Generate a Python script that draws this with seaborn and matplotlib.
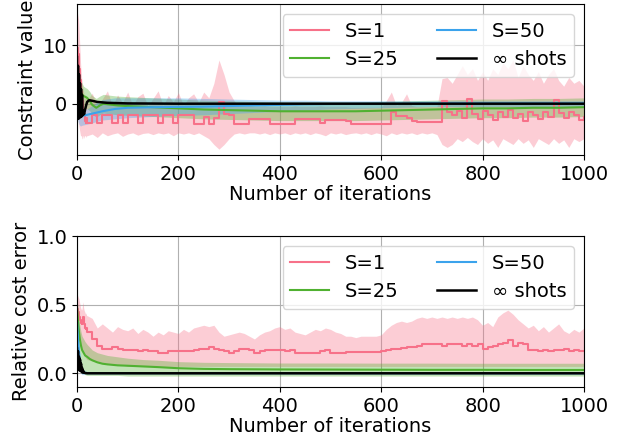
import matplotlib
matplotlib.use("Agg")
import matplotlib.pyplot as plt
import seaborn as sns

# ---------------------------------------------------------------- data
# S=1 runs: dense record for the first 20 iterations, then every 10
iters_s1 = list(range(20)) + list(range(20, 1001, 10))

# constraint value, S=1 (mean, lower and upper band)
con_s1_mean = [10.5, 9.5, 8.5, 7.0, 6.0, 5.0, 4.0, 3.0, 2.0, 1.2,
               0.5, -0.3, -1.0, -1.5, -2.0, -2.5, -3.0, -3.3, -2.5, -3.0,
               -3.3, -2.0, -3.3, -2.0, -2.0, -3.3, -2.0, -3.3,
               -2.0, -2.0, -3.3, -2.0, -2.0, -2.0, -3.3, -2.0, -2.0, -3.3,
               -2.0, -2.0, -2.0, -3.5, -3.5, -2.2, -3.5, -2.5, 0.3, -1.8,
               -2.0, -3.5, -3.5, -3.5, -2.7, -2.7, -2.7, -2.7, -3.5, -3.5,
               -3.5, -3.5, -3.5, -2.7, -2.7, -2.7, -2.7, -2.7, -3.3, -2.8,
               -2.8, -2.8, -2.8, -3.0, -3.5, -3.5, -3.5, -3.5, -3.5, -3.5,
               -3.5, -3.5, -1.5, -2.1, -2.1, -2.5, -3.0, -3.2, -3.2, -3.2,
               -3.2, -3.2, 0.5, -1.5, -2.0, -1.2, -2.5, 0.8, -1.8, -2.6,
               -1.2, -2.0, -2.8, -1.5, -2.2, -1.0, -2.5, -1.8, -3.0, -1.5,
               -2.0, -2.6, -1.4, -2.2, 0.6, -1.6, -2.4, -1.5, -2.0, -2.8,
               -2.3]
con_s1_hi = [16.0, 15.5, 15.0, 14.5, 13.0, 11.0, 9.0, 7.0, 5.5, 4.5,
             3.5, 3.0, 2.5, 2.0, 1.5, 1.2, 1.0, 0.8, 1.5, 0.8,
             0.5, 1.8, -0.3, 0.8, 2.2, -0.4, 1.5, 0.2,
             2.0, -0.3, 1.2, 1.8, -0.4, 0.9, 2.2, -0.3, 1.4, 0.3,
             1.9, -0.3, 1.0, 1.7, 0.2, 2.0, 1.0, 3.5, 7.5, 5.0,
             2.0, 0.5, -0.5, -0.5, -0.4, -0.5, -0.5, -0.4, -0.5, -0.5,
             -0.5, -0.5, -0.5, -0.4, -0.5, -0.5, -0.5, -0.5, -0.4, -0.5,
             -0.5, -0.5, -0.5, -0.5, -0.6, -0.6, -0.6, -0.6, -0.6, -0.6,
             -0.6, 0.5, 2.0, -0.3, 0.2, 1.7, -0.3, -0.5, -0.5, -0.5,
             -0.5, -0.5, 4.3, 4.5, 3.5, 5.0, 6.5, 5.0, 6.0, 4.0,
             5.5, 4.0, 6.0, 5.0, 7.0, 6.0, 7.5, 4.5, 6.5, 5.0,
             4.0, 5.5, 3.5, 5.0, 6.0, 4.0, 3.0, 4.5, 3.5, 4.0,
             3.0]
con_s1_lo = [2.0, -1.0, -2.5, -3.5, -4.0, -4.5, -5.0, -5.5, -5.5, -5.5,
             -6.0, -6.0, -5.5, -5.5, -6.0, -5.5, -5.5, -5.5, -5.8, -5.5,
             -5.5, -5.2, -5.8, -5.0, -5.5, -5.2, -5.0, -5.6,
             -5.2, -5.0, -5.4, -5.1, -5.0, -5.3, -5.0, -5.2, -5.0, -5.5,
             -5.0, -5.2, -5.0, -5.3, -5.0, -5.5, -6.0, -7.0, -7.8, -7.0,
             -6.0, -5.2, -5.0, -5.2, -5.0, -5.0, -5.2, -5.0, -5.3, -5.0,
             -5.2, -5.0, -5.3, -5.0, -5.2, -5.0, -5.3, -5.0, -5.2, -5.5,
             -5.0, -5.2, -5.0, -5.3, -5.1, -5.0, -5.2, -5.0, -5.3, -5.0,
             -5.2, -5.5, -5.0, -5.3, -5.0, -5.2, -5.0, -5.3, -5.0, -5.2,
             -5.0, -5.3, -7.0, -7.5, -7.0, -6.0, -6.5, -5.8, -6.5, -7.0,
             -6.0, -6.8, -6.2, -7.5, -6.0, -6.5, -7.0, -6.0, -6.8, -6.2,
             -7.5, -6.0, -6.5, -7.0, -6.0, -6.8, -6.2, -7.5, -6.0, -6.5,
             -6.0]

# relative cost error, S=1
err_s1_mean = [0.49, 0.47, 0.45, 0.43, 0.41, 0.40, 0.39, 0.38, 0.37, 0.36,
               0.37, 0.39, 0.41, 0.38, 0.36, 0.34, 0.33, 0.32, 0.33, 0.31,
               0.30, 0.25, 0.20, 0.18, 0.18, 0.19, 0.18, 0.17,
               0.17, 0.17, 0.16, 0.17, 0.16, 0.16, 0.15, 0.15, 0.16, 0.16,
               0.16, 0.16, 0.16, 0.17, 0.18, 0.18, 0.19, 0.18, 0.17, 0.16,
               0.15, 0.16, 0.18, 0.18, 0.17, 0.15, 0.16, 0.17, 0.17, 0.17,
               0.17, 0.16, 0.17, 0.15, 0.15, 0.15, 0.15, 0.15, 0.16, 0.17,
               0.15, 0.145, 0.15, 0.155, 0.155, 0.155, 0.155, 0.155, 0.155, 0.155,
               0.16, 0.17, 0.18, 0.18, 0.185, 0.19, 0.19, 0.20, 0.21, 0.21,
               0.21, 0.21, 0.20, 0.21, 0.21, 0.21, 0.20, 0.21, 0.20, 0.21,
               0.18, 0.19, 0.20, 0.21, 0.22, 0.24, 0.20, 0.22, 0.21, 0.17,
               0.17, 0.16, 0.17, 0.16, 0.17, 0.17, 0.18, 0.16, 0.17, 0.16,
               0.16]
err_s1_hi = [0.57, 0.57, 0.56, 0.55, 0.54, 0.52, 0.50, 0.48, 0.47, 0.46,
             0.47, 0.50, 0.52, 0.48, 0.46, 0.45, 0.44, 0.43, 0.44, 0.42,
             0.42, 0.40, 0.33, 0.36, 0.33, 0.30, 0.34, 0.32,
             0.31, 0.33, 0.29, 0.32, 0.30, 0.27, 0.30, 0.28, 0.31, 0.30,
             0.29, 0.32, 0.30, 0.33, 0.34, 0.35, 0.34, 0.35, 0.30, 0.27,
             0.28, 0.29, 0.30, 0.29, 0.27, 0.25, 0.28, 0.30, 0.31, 0.33,
             0.34, 0.32, 0.33, 0.30, 0.29, 0.28, 0.30, 0.32, 0.31, 0.33,
             0.32, 0.30, 0.29, 0.27, 0.27, 0.26, 0.27, 0.27, 0.27, 0.27,
             0.28, 0.32, 0.35, 0.37, 0.38, 0.37, 0.38, 0.40, 0.41, 0.40,
             0.41, 0.40, 0.41, 0.40, 0.41, 0.40, 0.41, 0.40, 0.41, 0.39,
             0.35, 0.37, 0.34, 0.41, 0.44, 0.46, 0.43, 0.39, 0.36, 0.33,
             0.35, 0.31, 0.34, 0.30, 0.33, 0.36, 0.31, 0.29, 0.32, 0.30,
             0.33]
err_s1_lo = [0.40, 0.37, 0.34, 0.30, 0.28, 0.26, 0.24, 0.22, 0.20, 0.19,
             0.18, 0.17, 0.16, 0.15, 0.14, 0.13, 0.12, 0.11, 0.11, 0.10,
             0.10, 0.09, 0.08, 0.07, 0.07, 0.06, 0.06, 0.06,
             0.05, 0.05, 0.05, 0.05, 0.05, 0.05, 0.05, 0.05, 0.05, 0.05,
             0.05, 0.05, 0.05, 0.05, 0.05, 0.05, 0.05, 0.05, 0.05, 0.05,
             0.05, 0.05, 0.05, 0.05, 0.05, 0.05, 0.05, 0.05, 0.05, 0.05,
             0.05, 0.05, 0.05, 0.05, 0.05, 0.05, 0.05, 0.05, 0.05, 0.05,
             0.05, 0.05, 0.05, 0.05, 0.05, 0.05, 0.05, 0.05, 0.05, 0.05,
             0.05, 0.05, 0.05, 0.05, 0.05, 0.05, 0.05, 0.05, 0.05, 0.05,
             0.05, 0.05, 0.05, 0.05, 0.05, 0.05, 0.05, 0.05, 0.05, 0.05,
             0.05, 0.05, 0.05, 0.05, 0.05, 0.05, 0.05, 0.05, 0.05, 0.05,
             0.05, 0.05, 0.05, 0.05, 0.05, 0.05, 0.05, 0.05, 0.05, 0.05,
             0.05]

# constraint value, S=25
iters_s25_con = [0, 2, 4, 6, 8, 10, 13, 16, 20, 25, 30, 38, 45, 52, 60, 80, 100,
                 150, 200, 250, 300, 350, 400, 450, 500, 550, 600, 650, 700,
                 750, 800, 850, 900, 950, 1000]
con_s25_mean = [6.0, 5.0, 3.5, 2.5, 2.0, 1.6, 1.3, 1.2, 1.0, 0.5, -0.2, -0.7,
                -0.3, 0.0, -0.1, -0.3, -0.4, -0.6, -0.8, -1.0, -1.1, -1.2,
                -1.3, -1.3, -1.3, -1.3, -1.2, -1.1, -1.0, -0.9, -0.8, -0.8,
                -0.7, -0.7, -0.6]
con_s25_hi = [9.0, 8.0, 6.5, 5.0, 4.0, 3.5, 3.0, 2.8, 2.6, 2.1, 1.4, 0.9,
              1.3, 1.6, 1.5, 1.3, 1.2, 1.0, 0.8, 0.6, 0.5, 0.4, 0.3, 0.3,
              0.3, 0.3, 0.4, 0.5, 0.6, 0.7, 0.8, 0.8, 0.9, 0.9, 1.0]
con_s25_lo = [3.0, 2.0, 0.5, 0.0, -0.5, -0.7, -0.8, -0.8, -0.9, -1.2, -1.8,
              -2.3, -1.9, -1.6, -1.7, -1.9, -2.0, -2.2, -2.4, -2.6, -2.7,
              -2.8, -2.9, -2.9, -2.9, -2.9, -2.8, -2.7, -2.6, -2.5, -2.4,
              -2.4, -2.3, -2.3, -2.2]

# constraint value, S=50
iters_s50_con = [0, 2, 4, 6, 8, 10, 15, 20, 30, 40, 50, 75, 100, 150, 200,
                 250, 300, 350, 400, 450, 500, 600, 700, 800, 900, 1000]
con_s50_mean = [1.0, -1.0, -2.0, -2.3, -2.2, -2.1, -2.0, -1.9, -1.7, -1.5,
                -1.3, -0.9, -0.7, -0.6, -0.55, -0.5, -0.4, -0.3, -0.2, -0.1,
                -0.05, 0.0, 0.05, 0.05, 0.05, 0.05]
con_s50_hi = [3.0, 0.5, -0.5, -1.0, -1.0, -1.0, -1.0, -0.9, -0.3, 0.3, 0.7,
              1.0, 1.0, 1.0, 1.0, 0.9, 0.8, 0.7, 0.6, 0.6, 0.5, 0.5, 0.5,
              0.5, 0.5, 0.5]
con_s50_lo = [-1.0, -3.0, -3.5, -3.8, -3.8, -3.7, -3.6, -3.5, -3.3, -3.0,
              -2.8, -2.6, -2.4, -2.2, -2.0, -1.9, -1.7, -1.5, -1.3, -1.1,
              -0.9, -0.7, -0.5, -0.5, -0.5, -0.5]

# constraint value, exact expectation (infinite shots)
iters_inf_con = [0, 1, 2, 3, 4, 5, 6, 7, 8, 9, 10, 11, 12, 14, 16, 18, 20,
                 24, 30, 40, 60, 100, 200, 1000]
con_inf = [8.0, -2.5, 6.5, -2.6, 5.0, -2.4, 3.5, -2.3, 2.5, -2.2, 1.5, -2.0,
           -1.2, -1.8, -1.0, -0.3, 0.3, 0.6, 0.5, 0.3, 0.15, 0.05, 0.0, 0.0]

# relative cost error, S=25
iters_s25_err = [0, 2, 4, 6, 8, 10, 13, 16, 20, 25, 30, 40, 50, 60, 80, 100,
                 130, 160, 200, 250, 300, 400, 500, 600, 700, 800, 900, 1000]
err_s25_mean = [0.48, 0.38, 0.30, 0.24, 0.20, 0.17, 0.15, 0.13, 0.12, 0.105,
                0.095, 0.08, 0.07, 0.065, 0.058, 0.055, 0.05, 0.045, 0.037,
                0.032, 0.03, 0.028, 0.027, 0.026, 0.025, 0.025, 0.024, 0.024]
err_s25_hi = [0.55, 0.47, 0.40, 0.34, 0.30, 0.27, 0.25, 0.23, 0.21, 0.19,
              0.17, 0.15, 0.14, 0.13, 0.12, 0.11, 0.10, 0.095, 0.085, 0.08,
              0.078, 0.075, 0.075, 0.074, 0.074, 0.073, 0.073, 0.073]
err_s25_lo = [0.40, 0.25, 0.15, 0.08, 0.04, 0.02, 0.0, -0.01, -0.015, -0.015,
              -0.015, -0.015, -0.015, -0.015, -0.015, -0.02, -0.02, -0.02,
              -0.02, -0.02, -0.02, -0.02, -0.02, -0.02, -0.02, -0.02, -0.02,
              -0.02]

# relative cost error, S=50
iters_s50_err = [0, 2, 4, 6, 8, 10, 12, 15, 20, 30, 1000]
err_s50_mean = [0.38, 0.25, 0.15, 0.08, 0.04, 0.02, 0.01, 0.005, 0.002, 0.001, 0.0]
err_s50_hi = [0.46, 0.32, 0.21, 0.13, 0.08, 0.05, 0.03, 0.015, 0.007, 0.003, 0.002]
err_s50_lo = [0.30, 0.18, 0.09, 0.03, 0.0, -0.01, -0.01, -0.005, -0.003, -0.001, -0.002]

# relative cost error, infinite shots
iters_inf_err = [0, 1, 2, 3, 4, 5, 6, 7, 8, 9, 10, 11, 12, 14, 16, 20, 1000]
err_inf = [0.18, 0.03, 0.16, 0.03, 0.12, 0.02, 0.10, 0.02, 0.07, 0.01, 0.04,
           0.005, 0.02, 0.005, 0.002, 0.0, 0.0]

labels = ["S=1", "S=25", "S=50", "\u221e shots"]

# ---------------------------------------------------------------- style
pal = sns.color_palette("husl", 3)
c1, c25, c50 = pal[0], pal[1], pal[2]
FS = 14
band_alpha = 0.35

fig = plt.figure(figsize=(6.28, 4.45), dpi=100)
ax_top = fig.add_axes([0.1226, 0.6517, 0.8073, 0.3393])
ax_bot = fig.add_axes([0.1226, 0.1303, 0.8073, 0.3393])


def draw_panel(ax, s1, s25, s50, inf):
    x, m, lo, hi = s1
    ax.fill_between(x, lo, hi, color=c1, alpha=band_alpha, lw=0)
    sns.lineplot(x=x, y=m, ax=ax, color=c1, lw=1.5, drawstyle="steps-post",
                 estimator=None, label=labels[0])
    x, m, lo, hi = s25
    ax.fill_between(x, lo, hi, color=c25, alpha=band_alpha, lw=0)
    sns.lineplot(x=x, y=m, ax=ax, color=c25, lw=1.5, estimator=None,
                 label=labels[1])
    x, m, lo, hi = s50
    ax.fill_between(x, lo, hi, color=c50, alpha=band_alpha, lw=0)
    sns.lineplot(x=x, y=m, ax=ax, color=c50, lw=1.5, estimator=None,
                 label=labels[2])
    x, m = inf
    sns.lineplot(x=x, y=m, ax=ax, color="black", lw=1.8, estimator=None,
                 label=labels[3])
    ax.set_xlim(0, 1000)
    ax.set_xticks([0, 200, 400, 600, 800, 1000])
    ax.grid(True, color="#b0b0b0", lw=0.8)
    ax.set_axisbelow(True)
    ax.tick_params(labelsize=FS)
    ax.set_xlabel("Number of iterations", fontsize=FS, labelpad=1)
    ax.legend(loc="upper right", ncol=2, fontsize=FS, framealpha=0.8,
              handlelength=2.0, columnspacing=2.0, borderaxespad=0.5)


draw_panel(ax_top,
           (iters_s1, con_s1_mean, con_s1_lo, con_s1_hi),
           (iters_s25_con, con_s25_mean, con_s25_lo, con_s25_hi),
           (iters_s50_con, con_s50_mean, con_s50_lo, con_s50_hi),
           (iters_inf_con, con_inf))
ax_top.set_ylim(-8.8, 17.1)
ax_top.set_yticks([0, 10])
ax_top.set_ylabel("Constraint value", fontsize=FS)

draw_panel(ax_bot,
           (iters_s1, err_s1_mean, err_s1_lo, err_s1_hi),
           (iters_s25_err, err_s25_mean, err_s25_lo, err_s25_hi),
           (iters_s50_err, err_s50_mean, err_s50_lo, err_s50_hi),
           (iters_inf_err, err_inf))
ax_bot.set_ylim(-0.1, 1.0)
ax_bot.set_yticks([0.0, 0.5, 1.0])
ax_bot.set_ylabel("Relative cost error", fontsize=FS)

fig.savefig("out.png", dpi=100)
